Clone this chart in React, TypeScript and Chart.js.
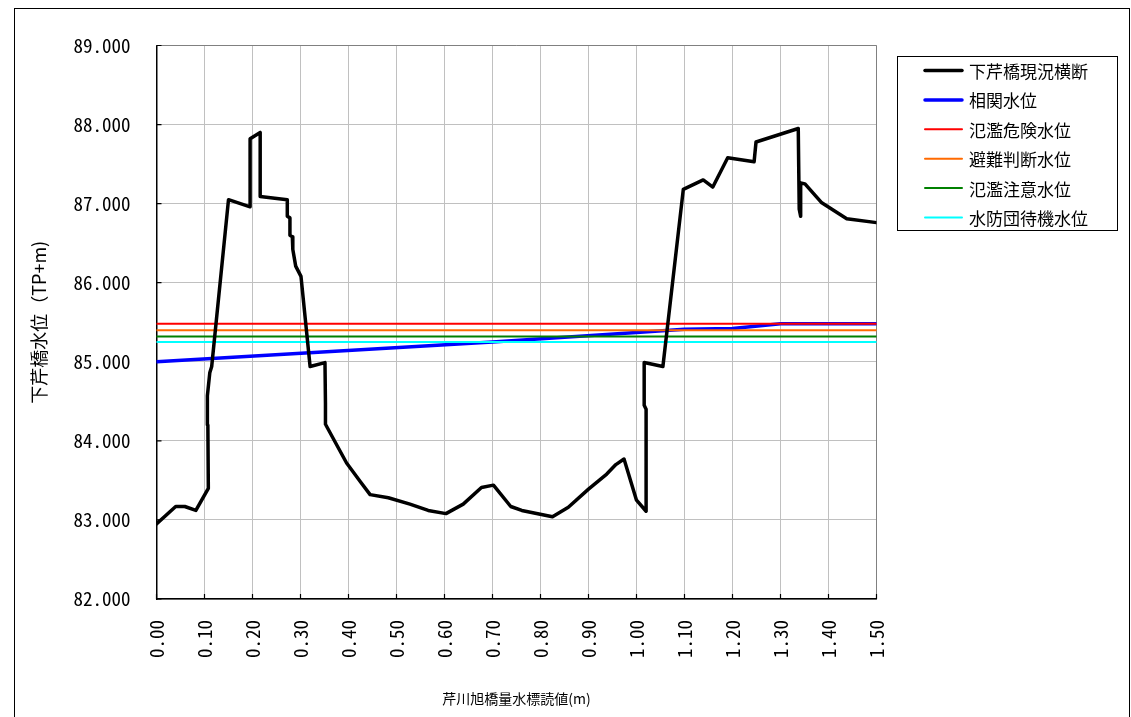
import { useEffect, useRef } from "react";
import { Chart, registerables } from "chart.js";

Chart.register(...registerables);

// 下芹橋現況横断 (cross-section)
const sectionX = [
  0.0, 0.04, 0.059, 0.082, 0.108, 0.107, 0.106, 0.111, 0.115, 0.15, 0.195, 0.195, 0.216, 0.216,
  0.2725, 0.2725, 0.278, 0.278, 0.283, 0.284, 0.29, 0.301, 0.32, 0.351, 0.352, 0.352, 0.396,
  0.424, 0.445, 0.483, 0.528, 0.566, 0.603, 0.639, 0.677, 0.702, 0.738, 0.761, 0.825, 0.858,
  0.9, 0.938, 0.957, 0.974, 1.0, 1.02, 1.02, 1.016, 1.016, 1.055, 1.0975, 1.139, 1.159, 1.19,
  1.245, 1.249, 1.337, 1.339, 1.342, 1.342, 1.351, 1.386, 1.438, 1.5,
];
const sectionY = [
  82.95, 83.17, 83.17, 83.12, 83.4, 84.2, 84.57, 84.86, 84.94, 87.05, 86.96, 87.82, 87.9, 87.09,
  87.05, 86.84, 86.82, 86.6, 86.58, 86.42, 86.21, 86.08, 84.94, 84.99, 84.48, 84.21, 83.72,
  83.49, 83.32, 83.28, 83.2, 83.12, 83.08, 83.2, 83.41, 83.44, 83.17, 83.12, 83.04, 83.16,
  83.39, 83.58, 83.7, 83.77, 83.25, 83.11, 84.4, 84.45, 84.99, 84.94, 87.18, 87.3, 87.21, 87.58,
  87.53, 87.78, 87.95, 86.93, 86.84, 87.26, 87.25, 87.01, 86.81, 86.76,
];

// 相関水位
const corrX = [0.0, 0.7, 1.0, 1.1, 1.2, 1.3, 1.5];
const corrY = [85.0, 85.25, 85.37, 85.41, 85.42, 85.48, 85.48];

// reference water levels
const levelNames = ["氾濫危険水位", "避難判断水位", "氾濫注意水位", "水防団待機水位"];
const levelValues = [85.48, 85.4, 85.32, 85.25];
const levelColors = ["#ff0000", "#ff6a00", "#008000", "#00ffff"];
const levelRange = [0.0, 1.5];

const sectionName = "下芹橋現況横断";
const corrName = "相関水位";

const yTitle = "下芹橋水位（TP+m)";
const xTitle = "芹川旭橋量水標読値(m)";

const CJK = '"Noto Sans CJK JP", sans-serif';
const MONO = '"Noto Sans Mono CJK JP", "Noto Sans CJK JP", sans-serif';

export default function App() {
  const ref = useRef<HTMLCanvasElement | null>(null);

  useEffect(() => {
    document.body.style.margin = "0";
    const canvas = ref.current;
    if (!canvas) return;

    const toPts = (xs: number[], ys: number[]) => xs.map((x, i) => ({ x, y: ys[i] }));

    const datasets: any[] = [
      {
        label: sectionName,
        data: toPts(sectionX, sectionY),
        borderColor: "#000000",
        borderWidth: 3.5,
        order: 0,
      },
      {
        label: corrName,
        data: toPts(corrX, corrY),
        borderColor: "#0000ff",
        borderWidth: 3.5,
        order: 9,
      },
      ...levelNames.map((name, i) => ({
        label: name,
        data: levelRange.map((x) => ({ x, y: levelValues[i] })),
        borderColor: levelColors[i],
        borderWidth: 2,
        order: 1 + i,
      })),
    ].map((d) => ({
      ...d,
      showLine: true,
      pointRadius: 0,
      pointHoverRadius: 0,
      tension: 0,
      fill: false,
      borderJoinStyle: "round",
      borderCapStyle: "round",
    }));

    const decor = {
      id: "decor",
      beforeDraw(chart: any) {
        const ctx = chart.ctx;
        ctx.save();
        ctx.fillStyle = "#ffffff";
        ctx.fillRect(0, 0, chart.width, chart.height);
        ctx.strokeStyle = "#000000";
        ctx.lineWidth = 1;
        ctx.strokeRect(14.5, 8.5, 1115, 730);
        ctx.restore();
      },
      beforeDatasetsDraw(chart: any) {
        const ctx = chart.ctx;
        const a = chart.chartArea;
        const xs = chart.scales.x;
        const ys = chart.scales.y;
        ctx.save();
        ctx.strokeStyle = "#808080";
        ctx.lineWidth = 1;
        ctx.beginPath();
        ctx.moveTo(a.left, a.top);
        ctx.lineTo(a.right, a.top);
        ctx.lineTo(a.right, a.bottom);
        ctx.stroke();
        ctx.strokeStyle = "#000000";
        ctx.lineWidth = 1.2;
        ctx.beginPath();
        xs.ticks.forEach((t: any) => {
          const px = xs.getPixelForValue(t.value);
          ctx.moveTo(px, a.bottom);
          ctx.lineTo(px, a.bottom - 5);
        });
        ys.ticks.forEach((t: any) => {
          const py = ys.getPixelForValue(t.value);
          ctx.moveTo(a.left, py);
          ctx.lineTo(a.left + 5, py);
        });
        ctx.stroke();
        ctx.restore();
      },
      afterDraw(chart: any) {
        const ctx = chart.ctx;
        const ds = chart.data.datasets;
        const boxX = 897.5;
        const boxY = 56.5;
        const boxW = 220;
        const boxH = 174;
        ctx.save();
        ctx.fillStyle = "#ffffff";
        ctx.fillRect(boxX, boxY, boxW, boxH);
        ctx.strokeStyle = "#000000";
        ctx.lineWidth = 1;
        ctx.strokeRect(boxX, boxY, boxW, boxH);
        ctx.font = `17px ${CJK}`;
        ctx.textBaseline = "middle";
        ctx.textAlign = "left";
        ds.forEach((d: any, i: number) => {
          const cy = boxY + 14 + i * 29.4;
          ctx.strokeStyle = d.borderColor;
          ctx.lineWidth = d.borderWidth;
          ctx.lineCap = "round";
          ctx.beginPath();
          ctx.moveTo(925, cy);
          ctx.lineTo(962, cy);
          ctx.stroke();
          ctx.fillStyle = "#000000";
          ctx.fillText(d.label, 969, cy + 1);
        });
        ctx.restore();
      },
    };

    const chart = new Chart(canvas, {
      type: "scatter",
      data: { datasets },
      options: {
        animation: false,
        responsive: false,
        events: [],
        layout: { padding: { left: 0, top: 45.5, right: 254.5, bottom: 0 } },
        plugins: {
          legend: { display: false },
          tooltip: { enabled: false },
        },
        scales: {
          x: {
            type: "linear",
            min: 0,
            max: 1.5,
            afterFit: (s: any) => {
              s.height = 118;
            },
            ticks: {
              stepSize: 0.1,
              minRotation: 90,
              maxRotation: 90,
              autoSkip: false,
              padding: 21,
              color: "#000000",
              font: { family: MONO, size: 19 },
              callback: (v: any) => Number(v).toFixed(2),
            },
            grid: { color: "#c0c0c0", lineWidth: 1, drawTicks: false },
            border: { color: "#000000", width: 1.5 },
            title: {
              display: true,
              text: xTitle,
              color: "#000000",
              font: { family: CJK, size: 14 },
              padding: { top: 0, bottom: 10 },
            },
          },
          y: {
            type: "linear",
            min: 82,
            max: 89,
            afterFit: (s: any) => {
              s.width = 156.5;
            },
            ticks: {
              stepSize: 1,
              padding: 26,
              color: "#000000",
              font: { family: MONO, size: 19 },
              callback: (v: any) => Number(v).toFixed(3),
            },
            grid: { color: "#c0c0c0", lineWidth: 1, drawTicks: false },
            border: { color: "#000000", width: 1.5 },
            title: {
              display: true,
              text: yTitle,
              color: "#000000",
              font: { family: CJK, size: 18 },
              padding: { top: 28, bottom: 0 },
            },
          },
        },
      },
      plugins: [decor],
    });

    return () => {
      chart.destroy();
    };
  }, []);

  return (
    <div style={{ position: "absolute", left: 0, top: 0, width: 1131, height: 717 }}>
      <canvas ref={ref} width={1131} height={717} style={{ display: "block", width: 1131, height: 717 }} />
    </div>
  );
}
